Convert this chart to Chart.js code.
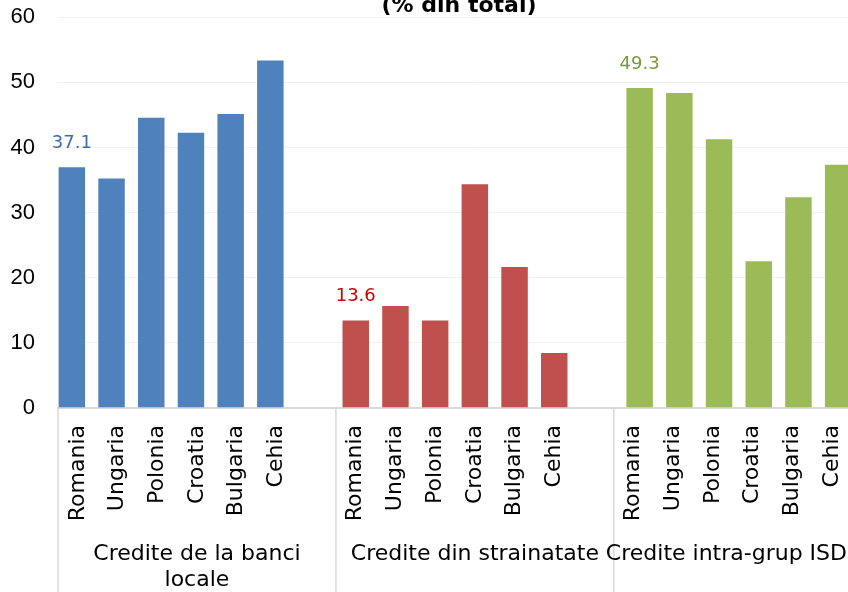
<!DOCTYPE html>
<html>
<head>
<meta charset="utf-8">
<script src="https://cdn.jsdelivr.net/npm/chart.js@4/dist/chart.umd.min.js"></script>
<style>
  html, body { margin: 0; padding: 0; background: #fff; }
  body { width: 848px; height: 592px; overflow: hidden; position: relative; }
  #wrap { position: absolute; left: 0; top: -20px; width: 918px; height: 612px; }
</style>
</head>
<body>
<div id="wrap"><canvas id="c" width="918" height="612"></canvas></div>
<script>
// ---- data ----
const countries = ['Romania', 'Ungaria', 'Polonia', 'Croatia', 'Bulgaria', 'Cehia'];
const groupNames = [['Credite de la banci', 'locale'], ['Credite din strainatate'], ['Credite intra-grup ISD']];
const crediteBanciLocale = [37.1, 35.4, 44.7, 42.4, 45.3, 53.5];
const crediteStrainatate = [13.6, 15.8, 13.6, 34.5, 21.8, 8.6];
const crediteIntraGrup   = [49.3, 48.5, 41.4, 22.7, 32.5, 37.5];
const yTickValues = [0, 10, 20, 30, 40, 50, 60];
const titleText = '(% din total)';
const annotatedIndex = 0; // Romania is annotated in every group

// ---- styling ----
const seriesColors = ['#4F81BD', '#C0504D', '#9BBB59'];
const annotColors  = ['#3F6BAA', '#CC0000', '#789A3A'];
const VIEW_WIDTH = 848;
const TITLE_Y = 26;
const GROUP_LABEL_Y = 574;
const GROUP_LINE_H = 26;

// one blank slot closes every group
const groupSize = countries.length + 1;
const seriesList = [crediteBanciLocale, crediteStrainatate, crediteIntraGrup];
const labels = [];
groupNames.forEach(() => { countries.forEach(c => labels.push(c)); labels.push(''); });

const datasets = seriesList.map((vals, g) => {
  const data = labels.map(() => null);
  vals.forEach((v, i) => { data[g * groupSize + i] = v; });
  return {
    data,
    backgroundColor: seriesColors[g],
    borderColor: 'rgba(255,255,255,0.45)',
    borderWidth: 1,
    categoryPercentage: 0.453,
    barPercentage: 4.75
  };
});

const groupAxisPlugin = {
  id: 'groupAxis',
  afterDraw(chart) {
    const { ctx, chartArea, scales: { x } } = chart;
    const slot = x.getPixelForValue(1) - x.getPixelForValue(0);
    ctx.save();
    ctx.textAlign = 'center';
    ctx.textBaseline = 'middle';
    // chart title, centred on the whole canvas
    ctx.font = 'bold 22px "DejaVu Sans"';
    ctx.fillStyle = '#000';
    ctx.fillText(titleText, chart.width / 2, TITLE_Y);
    // group separators below the axis
    ctx.strokeStyle = '#D9D9D9';
    ctx.lineWidth = 1.5;
    for (let g = 0; g <= groupNames.length; g++) {
      const px = x.getPixelForValue(0) - slot / 2 + g * groupSize * slot;
      ctx.beginPath();
      ctx.moveTo(px, chartArea.bottom);
      ctx.lineTo(px, chart.height);
      ctx.stroke();
    }
    // group captions
    ctx.font = '22px "DejaVu Sans"';
    groupNames.forEach((lines, g) => {
      const left = x.getPixelForValue(0) - slot / 2 + g * groupSize * slot;
      let cx = left + groupSize * slot / 2;
      const w = Math.max(...lines.map(l => ctx.measureText(l).width));
      cx = Math.min(cx, VIEW_WIDTH - 1 - w / 2);
      lines.forEach((l, k) => ctx.fillText(l, cx, GROUP_LABEL_Y + k * GROUP_LINE_H));
    });
    // value annotations
    ctx.font = '18px "DejaVu Sans"';
    seriesList.forEach((vals, g) => {
      const bar = chart.getDatasetMeta(g).data[g * groupSize + annotatedIndex];
      ctx.fillStyle = annotColors[g];
      ctx.fillText(vals[annotatedIndex].toFixed(1), bar.x, bar.y - 23);
    });
    ctx.restore();
  }
};

new Chart(document.getElementById('c'), {
  type: 'bar',
  data: { labels, datasets },
  options: {
    responsive: false,
    animation: false,
    devicePixelRatio: 1,
    layout: { padding: { left: 0, right: 26.3, top: 37.2, bottom: 0 } },
    plugins: {
      legend: { display: false },
      tooltip: { enabled: false },
      title: { display: false }
    },
    scales: {
      x: {
        grid: { display: false, drawTicks: false },
        border: { display: true, color: '#D9D9D9', width: 2 },
        ticks: {
          autoSkip: false, minRotation: 90, maxRotation: 90, padding: 17,
          color: '#000', font: { family: 'DejaVu Sans', size: 22 }
        },
        afterFit(scale) { scale.height = 184; }
      },
      y: {
        min: yTickValues[0],
        max: yTickValues[yTickValues.length - 1],
        grid: { color: '#F0F0F0', drawTicks: false },
        border: { display: false },
        afterBuildTicks(scale) { scale.ticks = yTickValues.map(v => ({ value: v })); },
        ticks: {
          padding: 23, color: '#000',
          font: { family: 'Liberation Sans', size: 22 }
        },
        afterFit(scale) { scale.width = 58; }
      }
    }
  },
  plugins: [groupAxisPlugin]
});
</script>
</body>
</html>
